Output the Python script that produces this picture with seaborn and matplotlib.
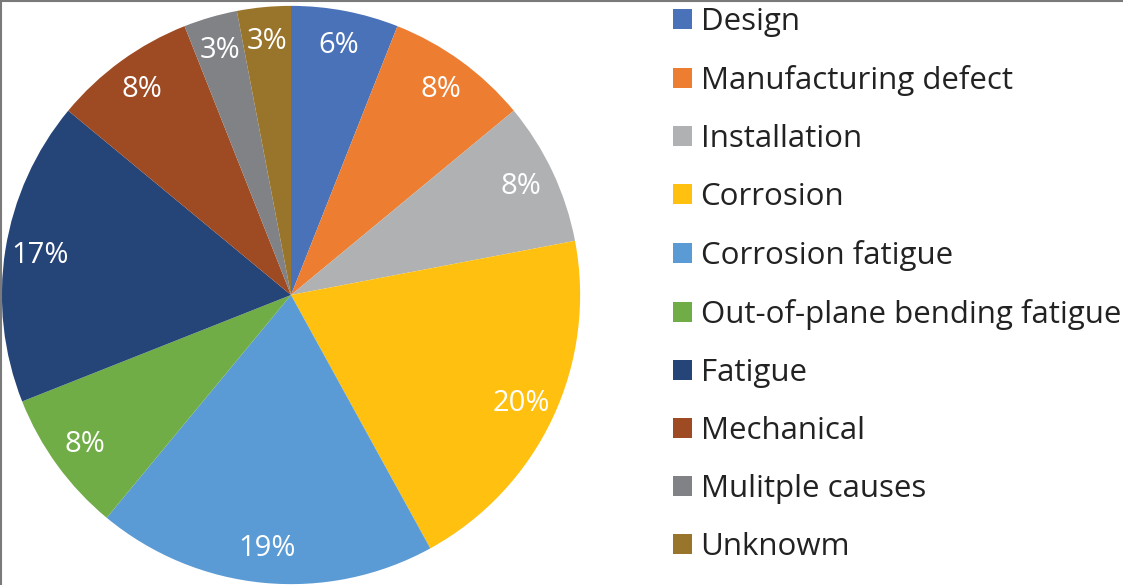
import matplotlib
matplotlib.use("Agg")
import matplotlib.pyplot as plt
import seaborn as sns
from matplotlib.lines import Line2D

causes = ["Design", "Manufacturing defect", "Installation", "Corrosion",
          "Corrosion fatigue", "Out-of-plane bending fatigue", "Fatigue",
          "Mechanical", "Mulitple causes", "Unknowm"]
shares = [6, 8, 8, 20, 19, 8, 17, 8, 3, 3]
slice_colors = ["#4A72B8", "#ED7D31", "#B0B1B3", "#FFC00F", "#5B9BD5",
                "#70AD47", "#254478", "#9E4A22", "#808285", "#99742B"]

sns.set_theme(style="white")
plt.rcParams["font.family"] = ["Open Sans", "DejaVu Sans"]
palette = sns.color_palette(slice_colors)

fig = plt.figure(figsize=(11.23, 5.85), dpi=100)
ax = fig.add_axes([1 / 1123, 0 / 585, 580 / 1123, 580 / 585])

wedges, texts, autotexts = ax.pie(
    shares, colors=palette, startangle=90, counterclock=False,
    autopct="%d%%", pctdistance=0.88, radius=1,
    wedgeprops=dict(linewidth=0),
    textprops=dict(color="white", fontsize=21))
ax.set_xlim(-1.003, 1.003)
ax.set_ylim(-1.003, 1.003)
ax.set_aspect("equal")
ax.axis("off")

leg = fig.legend(wedges, causes, loc="upper left",
                 bbox_to_anchor=(673 / 1123, 1 - 7 / 585),
                 frameon=False, fontsize=22.5, handlelength=0.61,
                 handleheight=0.61, handletextpad=0.27,
                 labelspacing=0.895, borderaxespad=0, borderpad=0)
for t in leg.get_texts():
    t.set_color("#222222")

# thin frame on top and left edges
fig.add_artist(Line2D([0, 1], [0.999, 0.999], color="#7a7a7a", lw=1.5,
                      transform=fig.transFigure))
fig.add_artist(Line2D([0.0005, 0.0005], [0, 1], color="#7a7a7a", lw=1.5,
                      transform=fig.transFigure))

fig.savefig("out.png", dpi=100)
